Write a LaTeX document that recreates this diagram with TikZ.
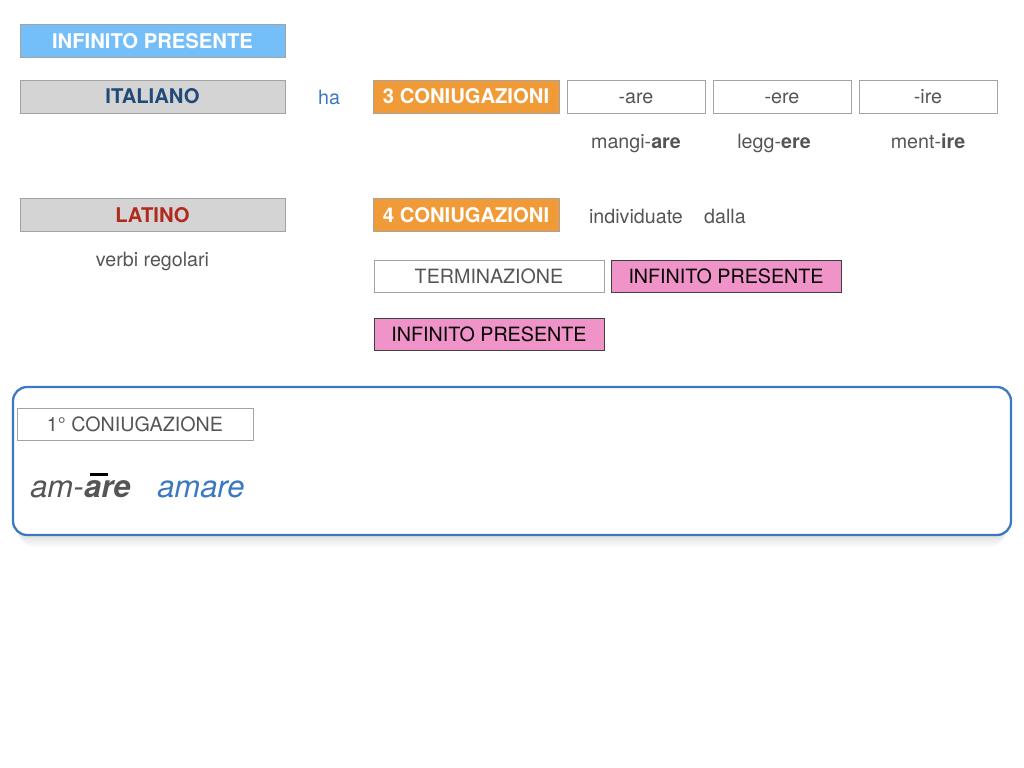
\documentclass[tikz,border=0pt]{standalone}
\usepackage{fontspec}
\setmainfont{TeX Gyre Heros}
\usetikzlibrary{calc}
\definecolor{titleblue}{HTML}{74BEF9}
\definecolor{boxgray}{HTML}{D5D4D4}
\definecolor{edgegray}{HTML}{A3A3A3}
\definecolor{navy}{HTML}{1F4A7A}
\definecolor{brick}{HTML}{B02A1E}
\definecolor{amber}{HTML}{F19B38}
\definecolor{rose}{HTML}{F093C8}
\definecolor{ink}{HTML}{555555}
\definecolor{linkblue}{HTML}{3A78BF}
\tikzset{%
  lbl/.style={font=\fontsize{14}{17}\selectfont,text=ink,inner sep=0pt,
    text height=10.2pt,text depth=0pt},
  card/.style={draw=edgegray,fill=#1,inner sep=0pt,
    font=\fontsize{14}{17}\selectfont,text height=10.2pt,text depth=0pt},
  card/.default=white,
  wide/.style={minimum width=265*0.025cm,minimum height=33*0.025cm},
  mid/.style={minimum width=186*0.025cm,minimum height=33*0.025cm},
  slim/.style={minimum width=138*0.025cm,minimum height=33*0.025cm},
  half/.style={minimum width=230*0.025cm,minimum height=32*0.025cm},
  heavy/.style={font=\fontsize{14.4}{17}\selectfont\bfseries}
}
\begin{document}
\begin{tikzpicture}[x=0.025cm,y=-0.025cm]
    \useasboundingbox (0,0) rectangle (1024,768);
    %
    \node[card=titleblue,wide,heavy,text=white] (title) at (152.5,41) {INFINITO PRESENTE};
    \node[card=boxgray,wide,heavy,text=navy] (ita) at (152.5,96.5) {ITALIANO};
    \node[lbl,text=linkblue] (ha) at (329,97) {ha};
    \node[card=amber,mid,heavy,text=white] (coni3) at (466,96.5) {3 CONIUGAZIONI};
    \node[card,slim,text=ink] (are) at (636,96.5) {-are};
    \node[card,slim,text=ink] (ere) at (782,96.5) {-ere};
    \node[card,slim,text=ink] (ire) at (928,96.5) {-ire};
    \node[lbl] (mangi) at (636,141) {mangi-\textbf{are}};
    \node[lbl] (legg) at (774,141) {legg-\textbf{ere}};
    \node[lbl] (ment) at (928,141) {ment-\textbf{ire}};
    %
    \node[card=boxgray,wide,heavy,text=brick] (lat) at (152.5,215) {LATINO};
    \node[lbl] (verbi) at (152.5,259) {verbi regolari};
    \node[card=amber,mid,heavy,text=white] (coni4) at (466,215) {4 CONIUGAZIONI};
    \node[lbl] (indiv) at (636,216) {individuate};
    \node[lbl] (dalla) at (725,216) {dalla};
    \node[card,half,text=ink] (term) at (489,276) {TERMINAZIONE};
    \node[card=rose,half,draw=black!75] (infa) at (726,276) {INFINITO PRESENTE};
    \node[card=rose,half,draw=black!75] (infb) at (489,334) {INFINITO PRESENTE};
    %
    \foreach \k in {1,...,6}
      \fill[black,opacity=0.018,rounded corners=10]
        (13+\k,387+2*\k) rectangle (1011-\k,535+2*\k);
    \draw[linkblue,line width=1.6pt,fill=white,rounded corners=10]
      (13,387) rectangle (1011,535);
    \node[card,minimum width=236*0.025cm,minimum height=32*0.025cm,text=ink]
      (coni1) at (135,424) {1° CONIUGAZIONE};
    \node[lbl,anchor=base west,font=\fontsize{22}{26}\selectfont\itshape]
      (amst) at (30,497.5) {am-};
    \node[lbl,anchor=base west,font=\fontsize{22}{26}\selectfont\itshape\bfseries]
      (amend) at (amst.base east) {are};
    \fill[black] ($(amend.base west)+(6,-25)$) rectangle ++(18,3.5);
    \node[lbl,anchor=base west,text=linkblue,font=\fontsize{22}{26}\selectfont\itshape]
      (amare) at (157,497.5) {amare};
\end{tikzpicture}
\end{document}
